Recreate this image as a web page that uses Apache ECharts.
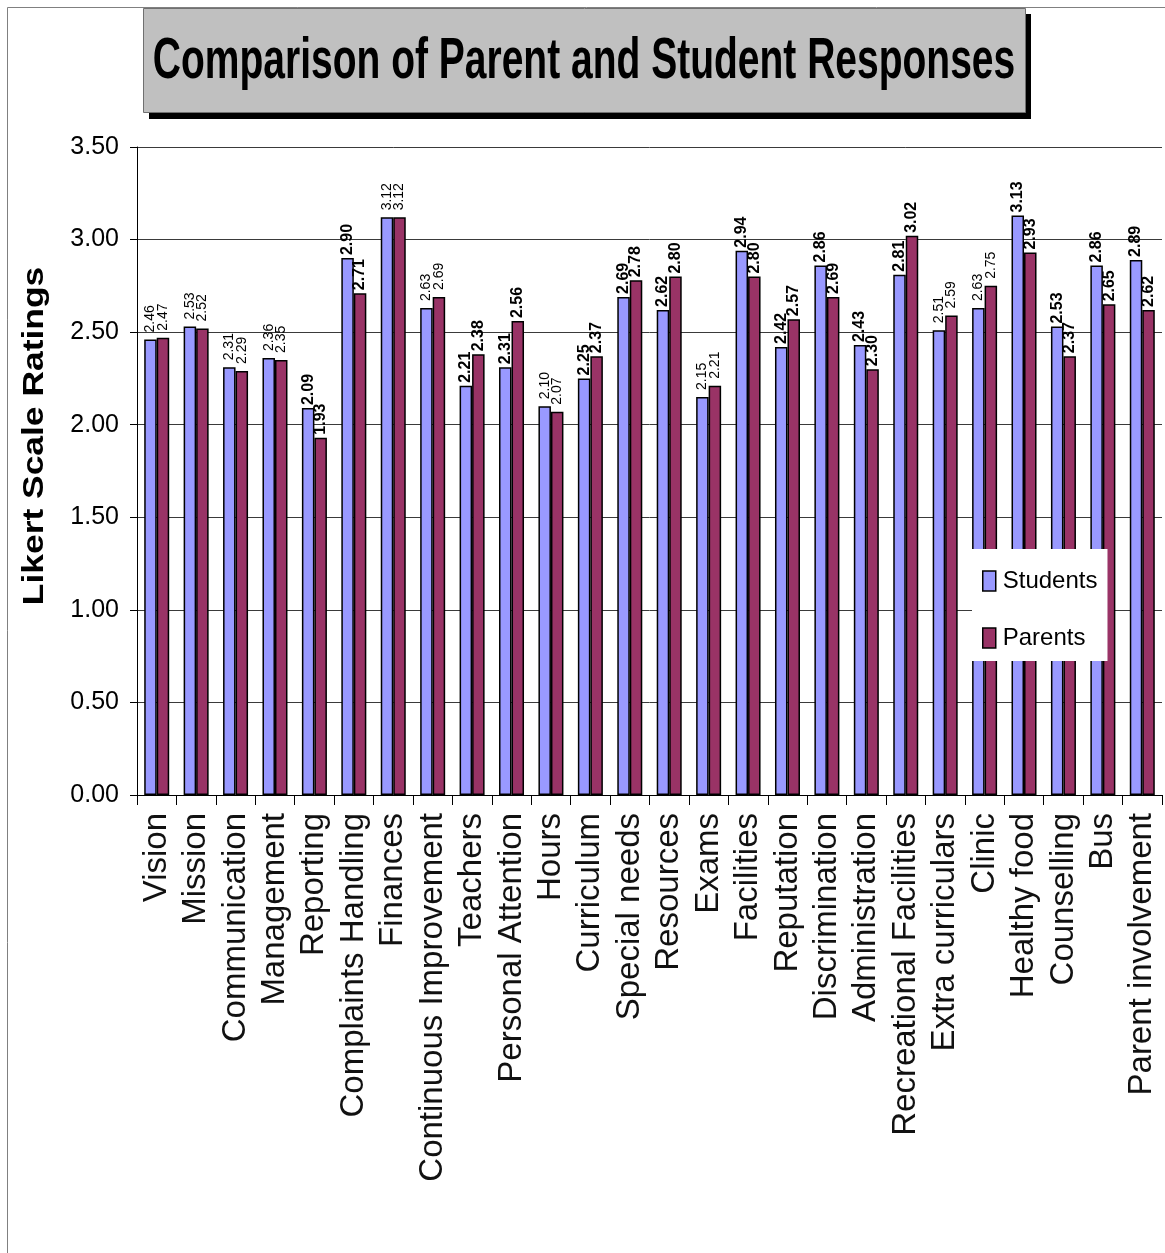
<!DOCTYPE html>
<html>
<head>
<meta charset="utf-8">
<script src="https://cdn.jsdelivr.net/npm/echarts@6/dist/echarts.min.js"></script>
<style>
  html, body { margin: 0; padding: 0; background: #ffffff; }
  #chart { width: 1165px; height: 1253px; }
</style>
</head>
<body>
<div id="chart"></div>
<script>
// Survey areas (x axis)
const categories = [
  'Vision', 'Mission', 'Communication', 'Management', 'Reporting',
  'Complaints Handling', 'Finances', 'Continuous Improvement', 'Teachers',
  'Personal Attention', 'Hours', 'Curriculum', 'Special needs', 'Resources',
  'Exams', 'Facilities', 'Reputation', 'Discrimination', 'Administration',
  'Recreational Facilities', 'Extra curriculars', 'Clinic', 'Healthy food',
  'Counselling', 'Bus', 'Parent involvement'
];

// Mean Likert ratings per area
const studentRatings = [
  2.46, 2.53, 2.31, 2.36, 2.09, 2.90, 3.12, 2.63, 2.21, 2.31, 2.10, 2.25, 2.69,
  2.62, 2.15, 2.94, 2.42, 2.86, 2.43, 2.81, 2.51, 2.63, 3.13, 2.53, 2.86, 2.89
];
const parentRatings = [
  2.47, 2.52, 2.29, 2.35, 1.93, 2.71, 3.12, 2.69, 2.38, 2.56, 2.07, 2.37, 2.78,
  2.80, 2.21, 2.80, 2.57, 2.69, 2.30, 3.02, 2.59, 2.75, 2.93, 2.37, 2.65, 2.62
];

// Y axis tick values
const yTicks = ['0.00', '0.50', '1.00', '1.50', '2.00', '2.50', '3.00', '3.50'];

// Areas whose value labels are printed in heavy type
const heavyLabelAreas = [
  'Reporting', 'Complaints Handling', 'Teachers', 'Personal Attention',
  'Curriculum', 'Special needs', 'Resources', 'Facilities', 'Reputation',
  'Discrimination', 'Administration', 'Recreational Facilities', 'Healthy food',
  'Counselling', 'Bus', 'Parent involvement'
];

const FONT = '"Liberation Sans", Arial, sans-serif';

function withLabels(values) {
  return values.map((v, i) => {
    const heavy = heavyLabelAreas.indexOf(categories[i]) >= 0;
    return {
      value: v,
      label: heavy
        ? { fontWeight: 'bold', fontSize: 16, distance: 3 }
        : { fontWeight: 'normal', fontSize: 14, distance: 7 }
    };
  });
}

const barLabel = {
  show: true,
  position: 'top',
  rotate: 90,
  align: 'left',
  verticalAlign: 'middle',
  color: '#000',
  fontFamily: FONT,
  formatter: p => p.value.toFixed(2)
};

const chart = echarts.init(document.getElementById('chart'), null, { renderer: 'canvas' });

chart.setOption({
  animation: false,
  backgroundColor: '#ffffff',
  graphic: [
    // outer frame
    { type: 'rect', z: 0, shape: { x: 7.5, y: 7.5, width: 1200, height: 1300 },
      style: { fill: '#ffffff', stroke: '#808080', lineWidth: 1 } },
    // title box shadow
    { type: 'rect', z: 1, shape: { x: 149, y: 14, width: 882, height: 105 },
      style: { fill: '#000000' } },
    // title box
    { type: 'rect', z: 2, shape: { x: 143.5, y: 8.5, width: 882, height: 104 },
      style: { fill: '#c0c0c0', stroke: '#707070', lineWidth: 1 } },
    // chart title, drawn tall and narrow
    { type: 'text', z: 3, x: 584, y: 62, scaleX: 1, scaleY: 1.45,
      style: {
        text: 'Comparison of Parent and Student Responses',
        x: 0, y: 0,
        font: 'bold 39px "Liberation Sans", Arial, sans-serif',
        fill: '#000',
        textAlign: 'center', textVerticalAlign: 'middle',
        align: 'center', verticalAlign: 'middle'
      } },
    // value axis title, rotated and stretched along its length
    { type: 'text', z: 3, x: 35, y: 436, rotation: Math.PI / 2, scaleX: 1.18, scaleY: 1,
      style: {
        text: 'Likert Scale Ratings',
        x: 0, y: 0,
        font: 'bold 30px "Liberation Sans", Arial, sans-serif',
        fill: '#000',
        textAlign: 'center', textVerticalAlign: 'middle',
        align: 'center', verticalAlign: 'middle'
      } }
  ],
  legend: {
    orient: 'vertical',
    left: 972,
    top: 549,
    backgroundColor: '#ffffff',
    padding: [20, 10, 11, 10],
    itemGap: 33,
    itemWidth: 13,
    itemHeight: 20,
    icon: 'rect',
    itemStyle: { borderColor: '#000', borderWidth: 1.5 },
    textStyle: { fontFamily: FONT, fontSize: 24, color: '#000', padding: [0, 0, 0, 2] },
    data: ['Students', 'Parents']
  },
  grid: {
    left: 137,
    right: 3,
    top: 147,
    bottom: 458,
    show: true,
    backgroundColor: '#c0c0c0',
    borderColor: '#808080',
    borderWidth: 1
  },
  xAxis: {
    type: 'category',
    data: categories,
    axisLine: { lineStyle: { color: '#000', width: 1 } },
    axisTick: { show: true, length: 10, lineStyle: { color: '#000' } },
    axisLabel: {
      rotate: 90,
      margin: 18,
      interval: 0,
      fontFamily: FONT,
      fontSize: 33,
      color: '#111'
    }
  },
  yAxis: {
    type: 'value',
    min: 0,
    max: 3.5,
    interval: 0.5,
    axisLine: { show: true, lineStyle: { color: '#000', width: 1 } },
    axisTick: { show: true, length: 7, lineStyle: { color: '#000' } },
    axisLabel: {
      margin: 18,
      fontFamily: FONT,
      fontSize: 25,
      color: '#000',
      formatter: v => yTicks[Math.round(v / 0.5)]
    },
    splitLine: { show: true, lineStyle: { color: '#3a3a3a', width: 1 } }
  },
  series: [
    {
      name: 'Students',
      type: 'bar',
      data: withLabels(studentRatings),
      barWidth: 12.5,
      barGap: '0%',
      itemStyle: { color: '#9999ff', borderColor: '#000', borderWidth: 1.5 },
      label: barLabel
    },
    {
      name: 'Parents',
      type: 'bar',
      data: withLabels(parentRatings),
      barWidth: 12.5,
      itemStyle: { color: '#993366', borderColor: '#000', borderWidth: 1.5 },
      label: barLabel
    }
  ]
});
</script>
</body>
</html>
